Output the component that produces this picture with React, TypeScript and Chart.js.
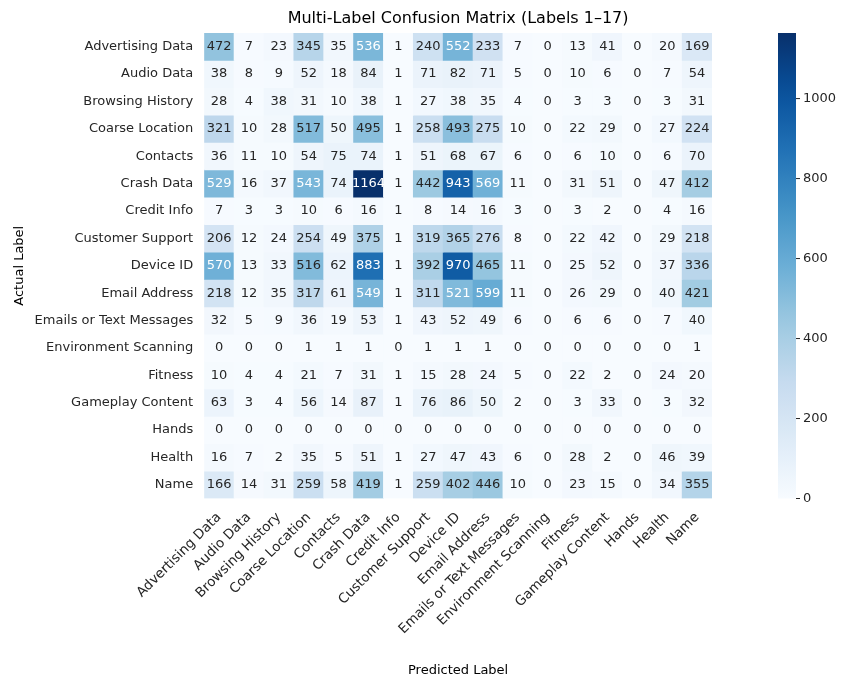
import React, { useEffect, useRef } from 'react';
import { Chart, registerables } from 'chart.js';

Chart.register(...registerables);

const labels = [
  'Advertising Data', 'Audio Data', 'Browsing History', 'Coarse Location', 'Contacts',
  'Crash Data', 'Credit Info', 'Customer Support', 'Device ID', 'Email Address',
  'Emails or Text Messages', 'Environment Scanning', 'Fitness', 'Gameplay Content',
  'Hands', 'Health', 'Name',
];

const matrix: number[][] = [
  [472, 7, 23, 345, 35, 536, 1, 240, 552, 233, 7, 0, 13, 41, 0, 20, 169],
  [38, 8, 9, 52, 18, 84, 1, 71, 82, 71, 5, 0, 10, 6, 0, 7, 54],
  [28, 4, 38, 31, 10, 38, 1, 27, 38, 35, 4, 0, 3, 3, 0, 3, 31],
  [321, 10, 28, 517, 50, 495, 1, 258, 493, 275, 10, 0, 22, 29, 0, 27, 224],
  [36, 11, 10, 54, 75, 74, 1, 51, 68, 67, 6, 0, 6, 10, 0, 6, 70],
  [529, 16, 37, 543, 74, 1164, 1, 442, 943, 569, 11, 0, 31, 51, 0, 47, 412],
  [7, 3, 3, 10, 6, 16, 1, 8, 14, 16, 3, 0, 3, 2, 0, 4, 16],
  [206, 12, 24, 254, 49, 375, 1, 319, 365, 276, 8, 0, 22, 42, 0, 29, 218],
  [570, 13, 33, 516, 62, 883, 1, 392, 970, 465, 11, 0, 25, 52, 0, 37, 336],
  [218, 12, 35, 317, 61, 549, 1, 311, 521, 599, 11, 0, 26, 29, 0, 40, 421],
  [32, 5, 9, 36, 19, 53, 1, 43, 52, 49, 6, 0, 6, 6, 0, 7, 40],
  [0, 0, 0, 1, 1, 1, 0, 1, 1, 1, 0, 0, 0, 0, 0, 0, 1],
  [10, 4, 4, 21, 7, 31, 1, 15, 28, 24, 5, 0, 22, 2, 0, 24, 20],
  [63, 3, 4, 56, 14, 87, 1, 76, 86, 50, 2, 0, 3, 33, 0, 3, 32],
  [0, 0, 0, 0, 0, 0, 0, 0, 0, 0, 0, 0, 0, 0, 0, 0, 0],
  [16, 7, 2, 35, 5, 51, 1, 27, 47, 43, 6, 0, 28, 2, 0, 46, 39],
  [166, 14, 31, 259, 58, 419, 1, 259, 402, 446, 10, 0, 23, 15, 0, 34, 355],
];

const colorbarTicks = [0, 200, 400, 600, 800, 1000];

const blues = [
  [247, 251, 255], [222, 235, 247], [198, 219, 239], [158, 202, 225], [107, 174, 214],
  [66, 146, 198], [33, 113, 181], [8, 81, 156], [8, 48, 107],
];
const vmax = Math.max(...matrix.flat());

function colorFor(v: number) {
  const t = Math.min(1, Math.max(0, v / vmax)) * (blues.length - 1);
  const i = Math.min(blues.length - 2, Math.floor(t));
  const f = t - i;
  const c = blues[i].map((a, k) => Math.round(a + (blues[i + 1][k] - a) * f));
  return `rgb(${c[0]},${c[1]},${c[2]})`;
}

const FONT = 'DejaVu Sans';

const heatPlugin = {
  id: 'heat',
  afterDatasetsDraw(chart: any) {
    const ctx = chart.ctx;
    const { top, bottom, left, right } = chart.chartArea;
    ctx.save();
    ctx.font = `13px ${FONT}`;
    ctx.textAlign = 'center';
    ctx.textBaseline = 'middle';
    chart.data.datasets.forEach((ds: any, r: number) => {
      chart.getDatasetMeta(r).data.forEach((el: any, c: number) => {
        const v = matrix[r][c];
        const cy = (el.y + el.base) / 2;
        ctx.fillStyle = v > 520 ? '#ffffff' : '#262626';
        ctx.fillText(String(v), el.x, cy);
      });
    });
    // title
    ctx.fillStyle = '#000';
    ctx.font = `16px ${FONT}`;
    ctx.fillText('Multi-Label Confusion Matrix (Labels 1–17)', (left + right) / 2, top - 14);
    // colorbar
    ctx.font = `13px ${FONT}`;
    const x0 = 770, w = 18;
    const g = ctx.createLinearGradient(0, bottom, 0, top);
    for (let i = 0; i <= 20; i++) g.addColorStop(i / 20, colorFor((i / 20) * vmax));
    ctx.fillStyle = g;
    ctx.fillRect(x0, top, w, bottom - top);
    ctx.textAlign = 'left';
    ctx.fillStyle = '#262626';
    ctx.strokeStyle = '#262626';
    colorbarTicks.forEach((t) => {
      const y = bottom - (t / vmax) * (bottom - top);
      ctx.beginPath();
      ctx.moveTo(x0 + w, y);
      ctx.lineTo(x0 + w + 4, y);
      ctx.stroke();
      ctx.fillText(String(t), x0 + w + 7, y);
    });
    ctx.restore();
  },
};

export default function App() {
  const ref = useRef<HTMLCanvasElement | null>(null);

  useEffect(() => {
    if (!ref.current) return;
    const chart = new Chart(ref.current, {
      type: 'bar',
      data: {
        labels,
        datasets: matrix.map((row, r) => ({
          label: labels[r],
          data: row.map(() => [r, r + 1]) as any,
          backgroundColor: row.map((v) => colorFor(v)),
          borderWidth: 0,
          barPercentage: 1,
          categoryPercentage: 1,
          grouped: false,
        })),
      },
      options: {
        animation: false,
        responsive: true,
        maintainAspectRatio: false,
        layout: { padding: { right: 138, top: 25, bottom: 0 } },
        plugins: {
          legend: { display: false },
          tooltip: { enabled: false },
        },
        scales: {
          x: {
            grid: { display: false },
            border: { display: false },
            ticks: {
              color: '#262626', font: { family: FONT, size: 13.5 },
              minRotation: 45, maxRotation: 45, autoSkip: false,
            },
            title: {
              display: true, text: 'Predicted Label', color: '#000',
              font: { family: FONT, size: 13 }, padding: { top: 22, bottom: 4 },
            },
          },
          y: {
            type: 'linear',
            min: 0,
            max: 17,
            reverse: true,
            grid: { display: false },
            border: { display: false },
            afterBuildTicks: (axis: any) => {
              axis.ticks = labels.map((_, i) => ({ value: i + 0.5 }));
            },
            ticks: {
              color: '#262626', font: { family: FONT, size: 13 },
              autoSkip: false,
              callback: (v: any) => labels[Math.floor(Number(v))],
            },
            title: { display: true, text: 'Actual Label', color: '#000', font: { family: FONT, size: 13 } },
          },
        },
      },
      plugins: [heatPlugin],
    });
    return () => chart.destroy();
  }, []);

  return (
    <div style={{ width: 842, height: 674 }}>
      <canvas ref={ref} />
    </div>
  );
}
